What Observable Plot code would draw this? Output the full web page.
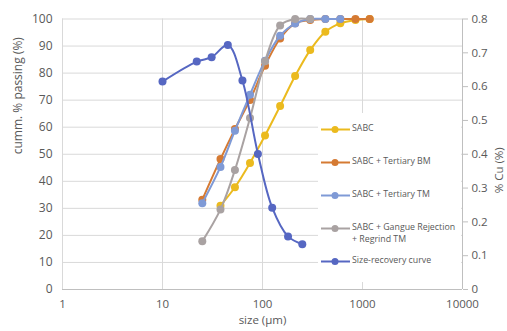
<!DOCTYPE html>
<html>
<head>
<meta charset="utf-8">
<script src="https://cdn.jsdelivr.net/npm/d3@7"></script>
<script src="https://cdn.jsdelivr.net/npm/@observablehq/plot@0.6"></script>
<style>
  body { margin: 0; background: #fff; }
  #wrap { position: relative; width: 507px; height: 331px; font-family: "Open Sans", sans-serif; }
  #legend { position: absolute; left: 318px; top: 113px; width: 143px; height: 169px; background: #fff; }
  .item { position: absolute; left: 0; display: flex; align-items: flex-start; font-size: 8.8px; color: #595959; line-height: 11.5px; }
  .item svg { flex: none; margin-top: 0.5px; }
  .item span { margin-left: 2px; }
</style>
</head>
<body>
<div id="wrap"></div>
<script>
// Size (µm) and cumulative % passing per series
const sabcSize = [38, 53, 75, 106, 150, 212, 300, 425, 600, 850, 1180];
const sabcPass = [31.0, 37.8, 46.8, 56.9, 67.8, 78.9, 88.5, 95.3, 98.4, 99.6, 100];

const bmSize = [25, 38, 53, 75, 106, 150, 212, 300, 425, 600, 850, 1180];
const bmPass = [33.2, 48.2, 59.3, 70.1, 82.7, 92.8, 98.4, 99.6, 100, 100, 100, 100];

const tmSize = [25, 38, 53, 75, 106, 150, 212, 300, 425, 600];
const tmPass = [31.9, 45.3, 58.7, 72.0, 84.6, 93.8, 98.3, 100, 100, 100];

const grSize = [25, 38, 53, 75, 106, 150, 212, 300];
const grPass = [17.8, 29.6, 44.2, 63.4, 84.4, 97.6, 100, 100];

// Size-recovery curve (secondary axis, % Cu)
const recSize = [10, 22, 31, 45, 63, 90, 125, 180, 250];
const recCu = [0.615, 0.674, 0.687, 0.723, 0.618, 0.401, 0.242, 0.157, 0.134];

const seriesNames = ["SABC", "SABC + Tertiary BM", "SABC + Tertiary TM", "SABC + Gangue Rejection + Regrind TM", "Size-recovery curve"];
const legendLabels = ["SABC", "SABC + Tertiary BM", "SABC + Tertiary TM", "SABC + Gangue Rejection<br>+ Regrind TM", "Size-recovery curve"];
const seriesColors = ["#EBBA1E", "#D57A33", "#7F9AD6", "#A9A2A2", "#5667C2"];

const xTicks = [1, 10, 100, 1000, 10000];
const yTicks = [0, 10, 20, 30, 40, 50, 60, 70, 80, 90, 100];
const y2Ticks = [0, 0.1, 0.2, 0.3, 0.4, 0.5, 0.6, 0.7, 0.8];
const y2Max = 0.8;

const toRows = (sizes, vals, k) => sizes.map((s, i) => ({size: s, value: vals[i], series: seriesNames[k]}));
const sabc = toRows(sabcSize, sabcPass, 0);
const bm = toRows(bmSize, bmPass, 1);
const tm = toRows(tmSize, tmPass, 2);
const gr = toRows(grSize, grPass, 3);
const rec = toRows(recSize, recCu, 4);

const scale2 = v => v / y2Max * 100; // map % Cu onto the primary 0–100 scale

const lineOpts = (k, curve) => ({x: "size", y: "value", stroke: seriesColors[k], strokeWidth: 2, curve});
const dotOpts = (k) => ({x: "size", y: "value", fill: seriesColors[k], r: 4});

const chart = Plot.plot({
  width: 507,
  height: 331,
  marginLeft: 62,
  marginRight: 45,
  marginTop: 18.5,
  marginBottom: 42,
  style: {fontFamily: "Open Sans, sans-serif", fontSize: "12px", color: "#595959", background: "#fff"},
  x: {type: "log", domain: [1, 10000]},
  y: {domain: [0, 100]},
  marks: [
    Plot.gridY(yTicks, {stroke: "#d9d9d9", strokeOpacity: 1}),
    Plot.gridX([10, 100, 1000], {stroke: "#d9d9d9", strokeOpacity: 1}),
    Plot.ruleX([1], {stroke: "#d9d9d9"}),
    Plot.ruleX([10000], {stroke: "#bfbfbf"}),
    Plot.ruleY([0], {stroke: "#bfbfbf"}),
    Plot.axisY(yTicks, {anchor: "left", tickSize: 0, tickPadding: 10, label: null, fill: "#595959", fontSize: 12}),
    Plot.axisY(y2Ticks.map(scale2), {anchor: "right", tickSize: 5, tickPadding: 4, stroke: "#bfbfbf", label: null, fill: "#595959", fontSize: 11.5,
      tickFormat: d => d === 0 ? "0" : (d / 100 * y2Max).toFixed(1)}),
    Plot.axisX(xTicks, {anchor: "bottom", tickSize: 0, tickPadding: 10, label: null, fill: "#595959", fontSize: 11.5, tickFormat: d => String(d)}),
    Plot.text(["cumm. % passing (%)"], {frameAnchor: "left", dx: -44, rotate: -90, fontSize: 12, fill: "#595959"}),
    Plot.text(["% Cu (%)"], {frameAnchor: "right", dx: 37, dy: -7, rotate: -90, fontSize: 11.5, fill: "#595959"}),
    Plot.text(["size (µm)"], {frameAnchor: "bottom", dy: 34.5, fontSize: 11.5, fill: "#595959"}),

    Plot.line(sabc, lineOpts(0, "catmull-rom")),
    Plot.dot(sabc, dotOpts(0)),
    Plot.line(bm, lineOpts(1, "catmull-rom")),
    Plot.dot(bm, dotOpts(1)),
    Plot.line(tm, lineOpts(2, "catmull-rom")),
    Plot.dot(tm, dotOpts(2)),
    Plot.line(gr, lineOpts(3, "catmull-rom")),
    Plot.dot(gr, dotOpts(3)),
    Plot.line(rec, {x: "size", y: d => scale2(d.value), stroke: seriesColors[4], strokeWidth: 2, curve: "catmull-rom"}),
    Plot.dot(rec, {x: "size", y: d => scale2(d.value), fill: seriesColors[4], r: 4})
  ]
});

const wrap = document.getElementById("wrap");
wrap.appendChild(chart);

// Legend inside the plot area
const legend = document.createElement("div");
legend.id = "legend";
const itemTops = [10, 43, 76, 109, 142];
legendLabels.forEach((lab, i) => {
  const it = document.createElement("div");
  it.className = "item";
  it.style.top = itemTops[i] + "px";
  const c = seriesColors[i];
  it.innerHTML = `<svg width="32" height="11"><line x1="3" y1="5.5" x2="32" y2="5.5" stroke="${c}" stroke-width="2"/><circle cx="17" cy="5.5" r="3.5" fill="${c}"/></svg><span>${lab}</span>`;
  legend.appendChild(it);
});
wrap.appendChild(legend);
</script>
</body>
</html>
